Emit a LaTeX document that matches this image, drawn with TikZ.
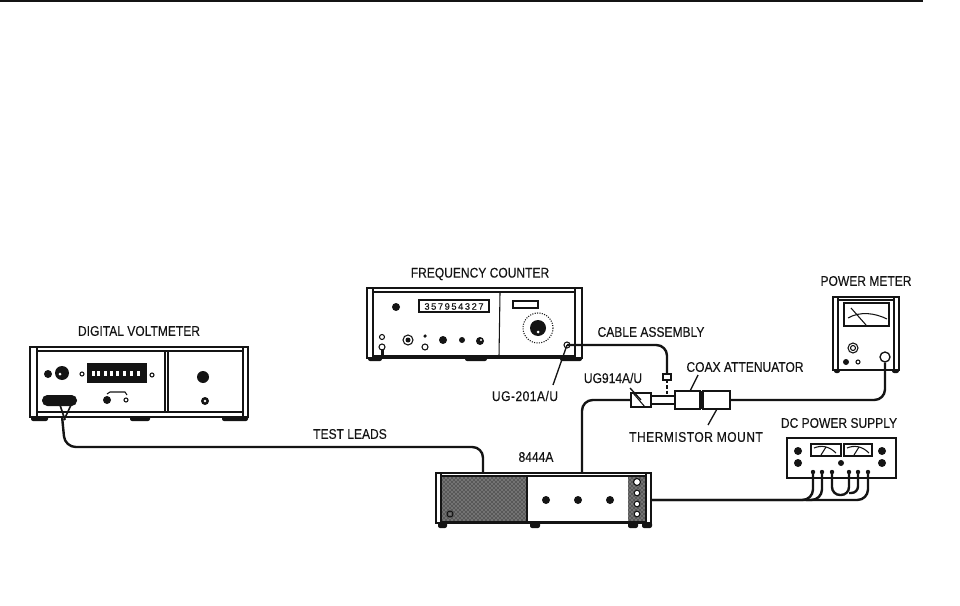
\documentclass[tikz,border=0pt]{standalone}
\usepackage{fontspec}
\setmainfont[FakeBold=0.25]{Liberation Sans}
\usetikzlibrary{patterns,calc}
\newcommand{\blackdot}[3]{\fill[ink] (#1,#2) circle[radius=#3];}
\newcommand{\ringdot}[3]{\draw[thin line] (#1,#2) circle[radius=#3];}
\newcommand{\panel}[4]{\draw[thin line] (#1,#2) rectangle (#3,#4);}
\newcommand{\foot}[3]{\fill[ink,rounded corners=1.5pt] (#1,#3) rectangle (#2,#3+6);}
\newcommand{\devbox}[5]{\node[device,minimum width={(#4-#2)*0.75pt},minimum height={(#5-#3)*0.75pt}] (#1) at ({(#2+#4)/2},{(#3+#5)/2}) {};}
\newcommand{\shaded}[4]{\fill[black!55] (#1,#2) rectangle (#3,#4); \fill[pattern=crosshatch dots,pattern color=black] (#1,#2) rectangle (#3,#4);}
\colorlet{ink}{black!92}
\tikzset{
  device/.style={draw=ink,line width=1.2pt,fill=white,inner sep=0pt,outer sep=0pt},
  thin line/.style={draw=ink,line width=.8pt},
  cable/.style={draw=ink,line width=1.8pt,rounded corners=8pt},
  leader/.style={draw=ink,line width=1pt},
  lbl/.style={font=\fontsize{10.5}{11}\selectfont,text=ink,inner sep=0pt,xscale=.86,transform shape},
}
\begin{document}
\begin{tikzpicture}[x=.75pt,y=-.75pt]
\useasboundingbox (0,0) rectangle (960,606);
\fill[white] (0,0) rectangle (960,606);
\draw[ink,line width=.8pt] (0,1) -- (923,1);

% ---------- digital voltmeter
\foreach \a/\b in {31/48,130/150,222/248} {\foot{\a}{\b}{415}}
\devbox{dvm}{30}{347}{248}{417}
\panel{37}{351}{243}{412}
\panel{165}{351}{168}{412}
\panel{30}{347}{37}{417}
\panel{243}{347}{248}{417}
\fill[ink] (87,363) rectangle (147,383);
\foreach \x in {92,97,104,110,116,123,130,137} {\fill[white] (\x,371) rectangle +(3,5);}
\blackdot{48}{374}{4}\blackdot{62}{373}{7}
\fill[white] (60,374) circle[radius=1.5];
\ringdot{82}{374}{2}\ringdot{152}{375}{2}
\fill[ink,rounded corners=4pt] (42,395) rectangle (77,406);
\blackdot{107}{400}{4}\ringdot{126}{400}{2}
\draw[thin line] (107,394) -- (110,392) -- (125,392) -- (127,395);
\blackdot{203}{377}{6}\blackdot{205}{401}{4}
\fill[white] (205,401) circle[radius=1.3];
\draw[ink,line width=1.2pt] (60,405) -- (65,420) (71,405) -- (64,420);
\coordinate (dvmport) at (62,416);

% ---------- frequency counter
\foreach \a/\b in {368/382,465/487,560/582} {\foot{\a}{\b}{355}}
\devbox{fc}{367}{288}{582}{358}
\panel{373}{292}{575}{356}
\panel{367}{288}{373}{358}
\panel{575}{288}{582}{358}
\draw[thin line] (500,293) -- (499,356);
\draw[ink,line width=.8pt] (419,300) rectangle (489,312);
\node[font=\fontsize{7}{8}\selectfont,text=ink,inner sep=0pt] at (454,306.5) {3\,5\,7\,9\,5\,4\,3\,2\,7};
\blackdot{396}{307}{4}
\draw[ink,line width=1pt] (513,301) rectangle (538,308);
\draw[thin line,densely dotted] (538,328) circle[radius=15];
\blackdot{538}{328}{8}
\fill[white] (538,332) circle[radius=1.5];
\ringdot{382}{337}{2.5}\ringdot{382}{347}{3}
\fill[ink] (381,349) rectangle (384,358);
\ringdot{408}{340}{5}\blackdot{408}{340}{2.5}
\ringdot{425}{336}{1}\ringdot{425}{347}{3}
\blackdot{443}{340}{4}\blackdot{462}{340}{3}\blackdot{480}{341}{4}
\fill[white] (481,340) circle[radius=1.2];
\ringdot{567}{345}{3}
\coordinate (fcport) at (567,345);
\node[lbl] (tfc) at (480,274) {FREQUENCY COUNTER};

% ---------- 8444A
\foreach \a/\b in {438/447,530/540,628/638,642/652} {\foot{\a}{\b}{522}}
\devbox{gen}{436}{473}{651}{523}
\shaded{441}{476}{526}{522}
\shaded{628}{476}{646}{522}
\panel{436}{473}{441}{523}
\panel{646}{473}{651}{523}
\draw[ink,line width=1.2pt] (441,476) -- (646,476) (441,522) -- (646,522) (527,476) -- (527,522);
\ringdot{450}{514}{3}
\blackdot{546}{500}{4}\blackdot{578}{500}{4}\blackdot{610}{500}{4}
\fill[white] (637,482) circle[radius=3]; \ringdot{637}{482}{3.5}
\foreach \y in {493,504,514} {\fill[white] (637,\y) circle[radius=2.5]; \ringdot{637}{\y}{2.8}}
\coordinate (gena) at (483,473);
\coordinate (genb) at (582,473);
\coordinate (genc) at (651,500);
\node[lbl] (tgen) at (536,457) {8444A};

% ---------- coax chain
\node[device,minimum width=15pt,minimum height=10.5pt] (ug914) at (641,400) {};
\draw[thin line] (633,393) -- (645,407);
\node[device,minimum width=18pt,minimum height=6pt,line width=.8pt] (tube) at (663,400) {};
\node[device,minimum width=18.75pt,minimum height=13.5pt] (atten) at (687.5,400) {};
\node[device,minimum width=20.25pt,minimum height=13.5pt] (therm) at (716.5,400) {};
\fill[ink] (700,391) rectangle (703,409);
\node[device,minimum width=6pt,minimum height=4.5pt,line width=.9pt] (adapter) at (667,377) {};
\draw[ink,line width=1.3pt,dashed,dash pattern=on 2.5pt off 1.5pt] (adapter.south) -- (tube.north -| adapter.south);

% ---------- power meter
\foreach \a/\b in {834/840,892/899} {\foot{\a}{\b}{367}}
\devbox{pm}{833}{297}{899}{370}
\panel{838}{300}{894}{370}
\panel{833}{297}{838}{370}
\panel{894}{297}{899}{370}
\draw[ink,line width=.9pt] (844,303) rectangle (889,326);
\draw[thin line] (848,318) .. controls (860,311) and (875,313) .. (887,319);
\draw[thin line] (851,308) -- (866,325);
\draw[thin line] (853,348) circle[radius=5];
\draw[thin line] (853,348) circle[radius=2.5];
\blackdot{846}{362}{3}\ringdot{858}{362}{2}
\node[draw=ink,line width=1pt,fill=white,circle,minimum size=7.5pt,inner sep=0pt] (pmport) at (885,357) {};

% ---------- DC power supply
\devbox{dc}{787}{438}{896}{478}
\draw[ink,line width=.9pt] (811,444) rectangle (841,456);
\draw[ink,line width=.9pt] (844,444) rectangle (872,456);
\foreach \x in {811,844} {
  \draw[thin line] (\x+3,448) .. controls (\x+10,445) and (\x+18,446) .. (\x+25,453);
  \draw[thin line] (\x+10,455) -- (\x+15,447);
}
\blackdot{798}{451}{4}\blackdot{798}{463}{4}
\blackdot{882}{451}{4}\blackdot{882}{463}{4}\blackdot{841}{463}{3}
\foreach \n/\x in {pa/813,pb/822,pc/832,pd/849,pe/858,pf/868} {
  \fill[ink] (\x,472) circle[radius=2.2];
  \coordinate (\n) at (\x,472);
}

% ---------- cables
\draw[cable] (dvmport) -- (65,447) -- (483,447) -- (gena);
\draw[cable] (fcport) -- (667,345) -- (adapter.north);
\draw[cable] (genb) -- (582,400) -- (ug914.west);
\draw[cable] (therm.east) -- (885,400) -- (pmport.south);
\draw[cable] (genc) -- (813,500) -- (pa);
\draw[cable] (genc) -- (868,500) -- (pf);
\draw[cable] (pb) -- (822,500) -- (806,500);
\draw[cable,rounded corners=6pt] (pc) -- (832,495) -- (849,495) -- (pd);
\draw[cable,rounded corners=5pt] (pe) -- (858,493) -- (849,493);

% ---------- leaders
\draw[leader] (fcport) -- (553,385);
\draw[leader] (630,388) -- (ug914.center);
\draw[leader] (698,375) -- (690,391);
\draw[leader] (717,409) -- (708,425);

% ---------- labels
\node[lbl] (tdvm) at (139,331) {DIGITAL VOLTMETER};
\node[lbl] (tcable) at (651,332) {CABLE ASSEMBLY};
\node[lbl] (tug201) at (525,396) {\addfontfeature{LetterSpace=4}UG-201A/U};
\node[lbl] (tug914) at (613,378) {UG914A/U};
\node[lbl] (tcoax) at (745,367) {COAX ATTENUATOR};
\node[lbl] (tthm) at (696,437) {\addfontfeature{LetterSpace=4}THERMISTOR MOUNT};
\node[lbl] (tpm) at (866,281) {POWER METER};
\node[lbl] (tdc) at (839,423) {DC POWER SUPPLY};
\node[lbl] (tleads) at (350,434) {TEST LEADS};
\end{tikzpicture}
\end{document}
